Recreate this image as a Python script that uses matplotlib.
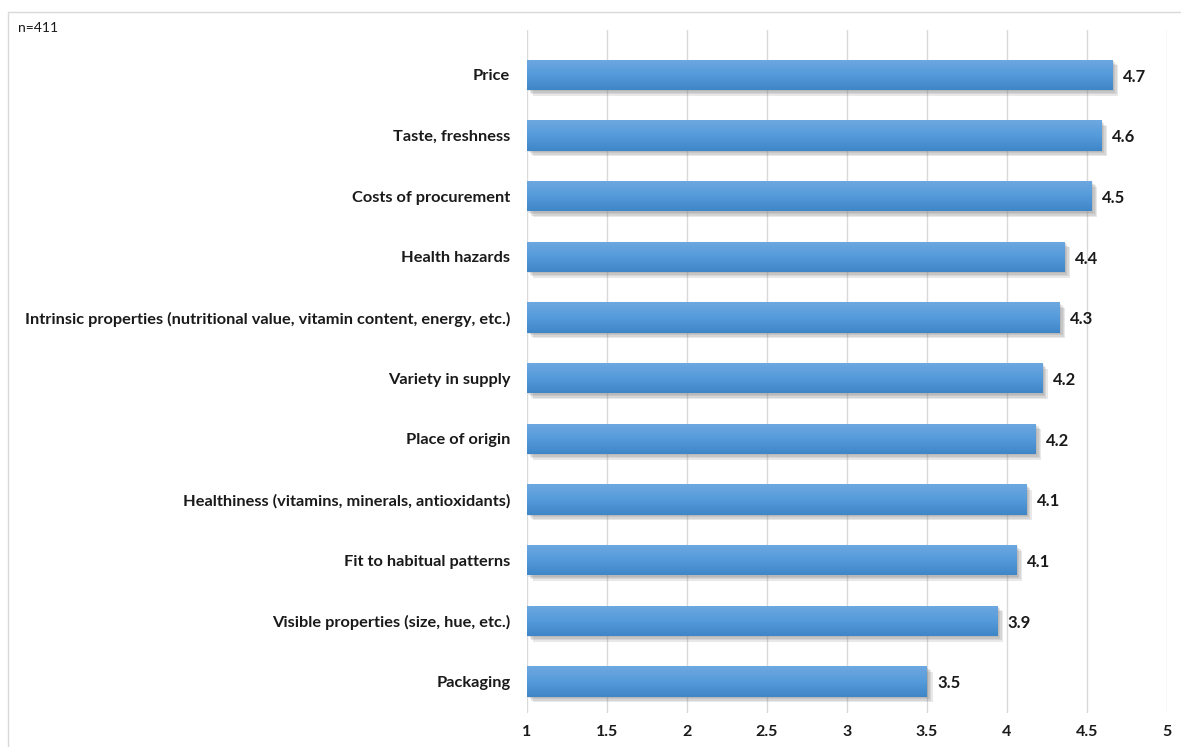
import matplotlib.pyplot as plt
import matplotlib.patheffects as pe
from matplotlib.patches import Rectangle
import numpy as np

plt.rcParams['font.family'] = ['Lato', 'DejaVu Sans']

# Mean importance ratings (1 = not important, 5 = very important)
factors = [
    "Price",
    "Taste, freshness",
    "Costs of procurement",
    "Health hazards",
    "Intrinsic properties (nutritional value, vitamin content, energy, etc.)",
    "Variety in supply",
    "Place of origin",
    "Healthiness (vitamins, minerals, antioxidants)",
    "Fit to habitual patterns",
    "Visible properties (size, hue, etc.)",
    "Packaging",
]
scores = [4.66, 4.59, 4.53, 4.36, 4.33, 4.22, 4.18, 4.12, 4.06, 3.94, 3.50]
xticks = [1, 1.5, 2, 2.5, 3, 3.5, 4, 4.5, 5]

fig = plt.figure(figsize=(11.81, 7.47), dpi=100)
fig.patch.set_facecolor('white')

# thin frame around the chart area (right and bottom edges run off the image)
fig.patches.append(Rectangle((8 / 1181, -0.01), 1.0, 1.01 - 12 / 747,
                             transform=fig.transFigure, fill=False,
                             edgecolor='#d9d9d9', linewidth=1.0))

ax = fig.add_axes([527 / 1181, 1 - 713 / 747, (1167 - 527) / 1181, (713 - 30) / 747])

# bottom-to-top order so the first factor is on top
y = np.arange(len(factors))[::-1]

bars = ax.barh(y, np.array(scores) - 1, left=1, height=0.5,
               color='#5b9bd5', edgecolor='none', zorder=3)

# vertical gradient on each bar plus a soft drop shadow
grad = np.linspace(0, 1, 64).reshape(-1, 1)
cmap = plt.matplotlib.colors.LinearSegmentedColormap.from_list(
    'bar', ['#3f86c8', '#559bdb', '#6ea8e0'])
shadow = [pe.SimplePatchShadow(offset=(o, -o), shadow_rgbFace='#808080', alpha=0.18)
          for o in (4.0, 3.0, 2.0, 1.0)]
for b in bars:
    b.set_path_effects(shadow + [pe.Normal()])
    x0, y0 = b.get_x(), b.get_y()
    w, h = b.get_width(), b.get_height()
    im = ax.imshow(grad, cmap=cmap, aspect='auto', origin='lower',
                   extent=(x0, x0 + w, y0, y0 + h), zorder=4)
    im.set_clip_path(b)

for yi, v in zip(y, scores):
    ax.text(v + 0.065, yi - 0.03, f"{v:.1f}", va='center', ha='left',
            fontsize=12, fontweight='bold', color='#1a1a1a', zorder=5)

ax.set_xlim(1, 5)
ax.set_ylim(-0.52, 10.74)
ax.set_xticks(xticks)
ax.set_xticklabels([f"{t:g}" for t in xticks], fontsize=11.5, fontweight='bold')
ax.set_yticks(y)
ax.set_yticklabels(factors, fontsize=11.8, fontweight='bold')
ax.tick_params(axis='y', length=0, pad=12, colors='#1a1a1a')
ax.tick_params(axis='x', length=0, pad=9, colors='#1a1a1a')

ax.grid(axis='x', color='#d9d9d9', linewidth=1.0, zorder=0)
for s in ax.spines.values():
    s.set_visible(False)

fig.text(18 / 1181, 1 - 28 / 747, "n=411", fontsize=10, color='#1a1a1a', va='center')

fig.savefig('out.png', dpi=100, facecolor='white')
